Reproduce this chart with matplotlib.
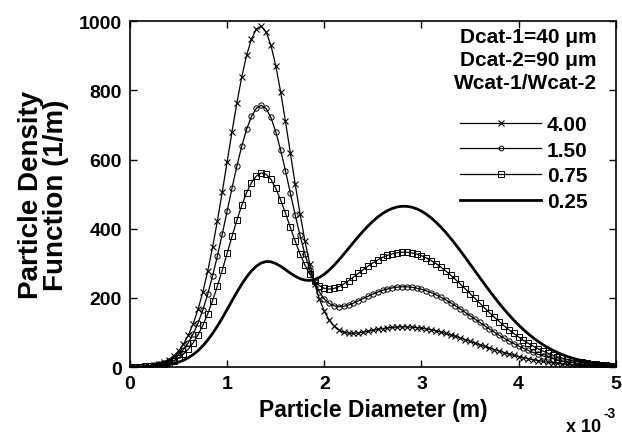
import numpy as np
import matplotlib
matplotlib.use("Agg")
import matplotlib.pyplot as plt

plt.rcParams['font.family'] = ['Liberation Sans', 'DejaVu Sans']
plt.rcParams['font.weight'] = 'bold'

# particle diameter, in units of 1e-3 m
diam = [0.00, 0.05, 0.10, 0.15, 0.20, 0.25, 0.30, 0.35, 0.40, 0.45,
        0.50, 0.55, 0.60, 0.65, 0.70, 0.75, 0.80, 0.85, 0.90, 0.95,
        1.00, 1.05, 1.10, 1.15, 1.20, 1.25, 1.30, 1.35, 1.40, 1.45,
        1.50, 1.55, 1.60, 1.65, 1.70, 1.75, 1.80, 1.85, 1.90, 1.95,
        2.00, 2.05, 2.10, 2.15, 2.20, 2.25, 2.30, 2.35, 2.40, 2.45,
        2.50, 2.55, 2.60, 2.65, 2.70, 2.75, 2.80, 2.85, 2.90, 2.95,
        3.00, 3.05, 3.10, 3.15, 3.20, 3.25, 3.30, 3.35, 3.40, 3.45,
        3.50, 3.55, 3.60, 3.65, 3.70, 3.75, 3.80, 3.85, 3.90, 3.95,
        4.00, 4.05, 4.10, 4.15, 4.20, 4.25, 4.30, 4.35, 4.40, 4.45,
        4.50, 4.55, 4.60, 4.65, 4.70, 4.75, 4.80, 4.85, 4.90, 4.95,
        5.00]

# Wcat-1/Wcat-2 = 4.00
pdf_400 = [0.5, 0.8, 1.3, 2.2, 3.7, 5.9, 9.3, 14.3, 21.7, 32.1,
           46.5, 66.1, 91.9, 125.1, 166.6, 217.2, 277.4, 346.5, 423.6, 506.9,
           593.7, 680.5, 763.6, 838.5, 901.3, 948.4, 976.8, 984.9, 969.6, 930.8,
           871.5, 796.4, 710.7, 619.9, 529.3, 443.4, 365.5, 297.7, 241.2, 196.0,
           161.3, 136.0, 118.5, 107.1, 100.8, 97.9, 97.4, 98.5, 100.7, 103.3,
           106.0, 108.6, 111.0, 113.0, 114.4, 115.5, 116.0, 115.9, 115.3, 114.1,
           112.4, 110.2, 107.6, 104.4, 100.9, 97.1, 92.9, 88.5, 83.9, 79.1,
           74.3, 69.4, 64.5, 59.7, 55.0, 50.4, 45.9, 41.7, 37.7, 33.8,
           30.3, 27.0, 23.9, 21.1, 18.5, 16.1, 14.0, 12.1, 10.4, 8.9,
           7.6, 6.5, 5.5, 4.6, 3.8, 3.2, 2.6, 2.2, 1.8, 1.5,
           1.2]

# Wcat-1/Wcat-2 = 1.50
pdf_150 = [0.4, 0.7, 1.1, 1.8, 2.9, 4.7, 7.3, 11.1, 16.8, 24.7,
           35.7, 50.6, 70.1, 95.4, 126.8, 165.2, 210.8, 263.2, 321.7, 385.0,
           451.0, 517.3, 580.9, 638.5, 687.3, 724.5, 748.0, 756.5, 747.7, 721.6,
           680.4, 627.8, 567.3, 503.5, 440.1, 380.5, 327.2, 281.7, 244.9, 216.9,
           196.8, 183.9, 176.7, 174.5, 175.6, 179.4, 184.7, 191.1, 197.8, 204.5,
           210.9, 216.6, 221.6, 225.7, 228.8, 230.9, 231.9, 231.8, 230.6, 228.2,
           224.9, 220.5, 215.1, 208.9, 201.8, 194.1, 185.8, 176.9, 167.7, 158.2,
           148.5, 138.8, 129.0, 119.4, 109.9, 100.7, 91.9, 83.4, 75.3, 67.7,
           60.6, 53.9, 47.8, 42.1, 37.0, 32.3, 28.0, 24.3, 20.9, 17.9,
           15.2, 12.9, 10.9, 9.2, 7.7, 6.4, 5.3, 4.4, 3.6, 2.9,
           2.4]

# Wcat-1/Wcat-2 = 0.75
pdf_075 = [0.4, 0.6, 0.9, 1.5, 2.3, 3.6, 5.6, 8.4, 12.6, 18.4,
           26.4, 37.3, 51.5, 69.9, 92.8, 120.7, 153.8, 192.0, 234.6, 280.7,
           329.0, 377.6, 424.4, 467.3, 504.1, 532.9, 552.2, 561.0, 557.8, 542.6,
           517.0, 483.5, 444.8, 404.1, 363.9, 326.9, 294.7, 268.4, 248.4, 235.0,
           227.5, 225.2, 227.1, 232.4, 240.2, 249.7, 260.1, 270.9, 281.6, 291.8,
           301.3, 309.7, 317.0, 322.9, 327.4, 330.4, 331.9, 331.7, 330.0, 326.6,
           321.8, 315.5, 307.8, 298.9, 288.8, 277.8, 265.8, 253.2, 240.0, 226.4,
           212.5, 198.6, 184.6, 170.8, 157.3, 144.2, 131.5, 119.3, 107.8, 96.9,
           86.7, 77.2, 68.4, 60.3, 52.9, 46.2, 40.1, 34.7, 29.9, 25.6,
           21.8, 18.5, 15.6, 13.1, 11.0, 9.1, 7.6, 6.2, 5.1, 4.2,
           3.4]

# Wcat-1/Wcat-2 = 0.25
pdf_025 = [0.3, 0.5, 0.7, 1.0, 1.5, 2.2, 3.3, 4.8, 7.0, 10.0,
           14.1, 19.6, 26.8, 36.0, 47.4, 61.4, 77.9, 97.0, 118.5, 141.8,
           166.5, 191.6, 216.2, 239.5, 260.2, 277.7, 291.4, 300.7, 305.0, 304.3,
           299.3, 291.4, 281.6, 271.6, 262.5, 255.4, 251.3, 250.4, 253.0, 259.2,
           268.3, 280.1, 294.0, 309.6, 326.1, 343.2, 360.2, 377.0, 393.0, 407.9,
           421.5, 433.5, 443.9, 452.2, 458.6, 462.8, 464.8, 464.6, 462.2, 457.5,
           450.7, 441.9, 431.1, 418.6, 404.6, 389.1, 372.3, 354.7, 336.1, 317.1,
           297.7, 278.1, 258.6, 239.2, 220.3, 201.9, 184.1, 167.1, 151.0, 135.7,
           121.4, 108.1, 95.7, 84.4, 74.1, 64.7, 56.2, 48.6, 41.9, 35.9,
           30.6, 25.9, 21.9, 18.4, 15.4, 12.8, 10.6, 8.7, 7.2, 5.9,
           4.7]

labels = ['4.00', '1.50', '0.75', '0.25']

fig = plt.figure(figsize=(6.22, 4.35), dpi=100)
ax = fig.add_axes([0.209, 0.154, 0.781, 0.795])

ax.plot(diam, pdf_400, '-', color='k', lw=0.9, marker='x', ms=4.5, mew=0.8, label=labels[0])
ax.plot(diam, pdf_150, '-', color='k', lw=0.9, marker='o', ms=3.8, mew=0.7, mfc='none', label=labels[1])
ax.plot(diam, pdf_075, '-', color='k', lw=0.9, marker='s', ms=4.8, mew=0.7, mfc='none', label=labels[2])
ax.plot(diam, pdf_025, '-', color='k', lw=2.0, label=labels[3])

ax.set_xlim(0, 5)
ax.set_ylim(0, 1000)
ax.set_xticks([0, 1, 2, 3, 4, 5])
ax.set_yticks([0, 200, 400, 600, 800, 1000])
ax.tick_params(direction='in', top=True, right=True, length=5, width=1, labelsize=14, pad=6)
for sp in ax.spines.values():
    sp.set_linewidth(1.2)

ax.set_xlabel('Particle Diameter (m)', fontsize=16.5, fontweight='bold', labelpad=4)
ax.set_ylabel('Particle Density\nFunction (1/m)', fontsize=20, fontweight='bold',
              linespacing=0.95, va='center')
ax.yaxis.set_label_coords(-0.178, 0.5)

fig.text(0.966, 0.006, 'x 10', fontsize=13, fontweight='bold', ha='right', va='baseline')
fig.text(0.970, 0.040, '-3', fontsize=10, fontweight='bold', ha='left', va='baseline')

ax.text(0.961, 0.957, 'Dcat-1=40 μm', transform=ax.transAxes, ha='right', va='center', fontsize=15)
ax.text(0.961, 0.890, 'Dcat-2=90 μm', transform=ax.transAxes, ha='right', va='center', fontsize=15)
ax.text(0.961, 0.824, 'Wcat-1/Wcat-2', transform=ax.transAxes, ha='right', va='center', fontsize=15)

leg = ax.legend(loc='upper right', bbox_to_anchor=(0.942, 0.729), frameon=False,
                fontsize=15, handlelength=3.85, handletextpad=0.3, labelspacing=0.32,
                borderaxespad=0, borderpad=0, markerscale=0.9)

fig.savefig('out.png', dpi=100)
